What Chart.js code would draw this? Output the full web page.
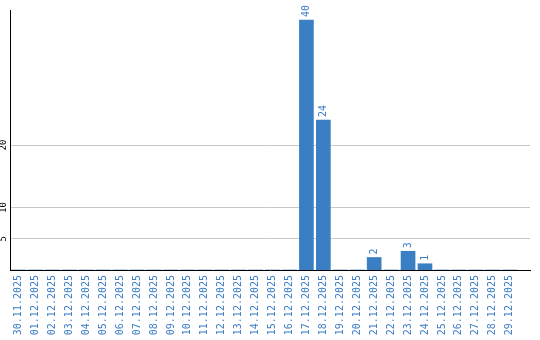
<!DOCTYPE html>
<html lang="en">
<head>
  <meta charset="UTF-8" />
  <title>Daily count</title>
  <script src="https://cdn.jsdelivr.net/npm/chart.js"></script>
  <style>
    html, body { margin: 0; padding: 0; background: #fff; }
  </style>
</head>
<body>
<canvas id="dayChart" width="540" height="340"></canvas>

<script>
  const days = [
    '30.11.2025', '01.12.2025', '02.12.2025', '03.12.2025', '04.12.2025',
    '05.12.2025', '06.12.2025', '07.12.2025', '08.12.2025', '09.12.2025',
    '10.12.2025', '11.12.2025', '12.12.2025', '13.12.2025', '14.12.2025',
    '15.12.2025', '16.12.2025', '17.12.2025', '18.12.2025', '19.12.2025',
    '20.12.2025', '21.12.2025', '22.12.2025', '23.12.2025', '24.12.2025',
    '25.12.2025', '26.12.2025', '27.12.2025', '28.12.2025', '29.12.2025'
  ];
  const counts = [
    0, 0, 0, 0, 0,
    0, 0, 0, 0, 0,
    0, 0, 0, 0, 0,
    0, 0, 40, 24, 0,
    0, 2, 0, 3, 1,
    0, 0, 0, 0, 0
  ];
  const yTicks = [5, 10, 20];

  const blue = '#3a7ec4';
  const mono = 'DejaVu Sans Mono';

  // value labels above the bars, rotated like the axis labels
  const barValues = {
    id: 'barValues',
    afterDatasetsDraw(chart) {
      const ctx = chart.ctx;
      const meta = chart.getDatasetMeta(0);
      ctx.save();
      ctx.fillStyle = '#3b7cc6';
      ctx.font = '10px "' + mono + '"';
      ctx.textAlign = 'left';
      ctx.textBaseline = 'middle';
      meta.data.forEach((bar, i) => {
        if (!counts[i]) return;
        ctx.save();
        ctx.translate(bar.x, bar.y - 3);
        ctx.rotate(-Math.PI / 2);
        ctx.fillText(String(counts[i]), 0, 0);
        ctx.restore();
      });
      ctx.restore();
    }
  };

  new Chart(document.getElementById('dayChart'), {
    type: 'bar',
    data: {
      datasets: [{
        data: counts.map((v, i) => ({ x: i, y: v })),
        backgroundColor: blue,
        borderWidth: 0,
        barThickness: 14
      }]
    },
    options: {
      responsive: false,
      animation: false,
      devicePixelRatio: 1,
      layout: { padding: { top: 10, right: 10, left: 0, bottom: 0 } },
      plugins: {
        legend: { display: false },
        tooltip: { enabled: false }
      },
      scales: {
        x: {
          type: 'linear',
          min: -0.5,
          max: 30.2,
          offset: false,
          afterBuildTicks: axis => { axis.ticks = days.map((_, i) => ({ value: i })); },
          afterFit: axis => { axis.height = 70; },
          grid: { display: false, offset: false, drawTicks: false },
          border: { display: true, color: '#000', width: 1 },
          ticks: {
            autoSkip: false,
            minRotation: 90,
            maxRotation: 90,
            padding: 5,
            color: '#3b7cc6',
            font: { family: mono, size: 10 },
            callback: v => days[v] || ''
          }
        },
        y: {
          min: 0,
          max: 41.6,
          afterBuildTicks: axis => { axis.ticks = yTicks.map(v => ({ value: v })); },
          afterFit: axis => { axis.width = 10; },
          grid: { color: '#c8c8c8', drawTicks: false },
          border: { display: true, color: '#000', width: 1 },
          ticks: {
            minRotation: 90,
            maxRotation: 90,
            crossAlign: 'center',
            padding: 1,
            color: '#000',
            font: { family: mono, size: 9 }
          }
        }
      }
    },
    plugins: [barValues]
  });
</script>
</body>
</html>
